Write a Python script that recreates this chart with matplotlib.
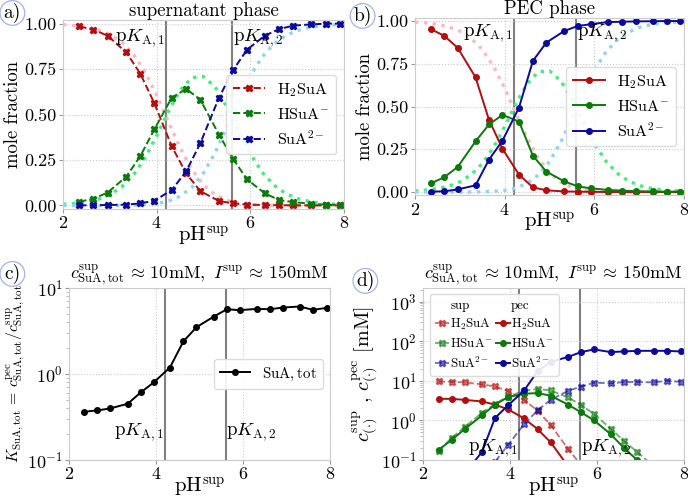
import matplotlib
matplotlib.use("Agg")
import matplotlib.pyplot as plt
from matplotlib.lines import Line2D

plt.rcParams["font.family"] = "cmr10"
plt.rcParams["mathtext.fontset"] = "cm"
plt.rcParams["axes.unicode_minus"] = False
plt.rcParams["axes.formatter.use_mathtext"] = True

# --- data ---
ph = [2.35, 2.65, 2.95, 3.35, 3.65, 3.95, 4.32, 4.63, 4.93, 5.33, 5.63, 5.93,
      6.31, 6.62, 6.92, 7.30, 7.61, 7.92]

# ideal (titration) curves
ph_ideal = [2.0, 2.25, 2.5, 2.75, 3.0, 3.25, 3.5, 3.75, 4.0, 4.25, 4.5, 4.75, 5.0,
            5.25, 5.5, 5.75, 6.0, 6.25, 6.5, 6.75, 7.0, 7.25, 7.5, 7.75, 8.0]
ideal_h2a = [0.994, 0.989, 0.980, 0.966, 0.941, 0.899, 0.833, 0.735, 0.607, 0.460, 0.317,
             0.198, 0.112, 0.058, 0.027, 0.012, 0.004, 0.002, 0.001, 0.0, 0.0, 0.0, 0.0, 0.0, 0.0]
ideal_ha = [0.006, 0.011, 0.020, 0.034, 0.059, 0.101, 0.166, 0.261, 0.383, 0.517, 0.633,
            0.703, 0.709, 0.651, 0.542, 0.410, 0.284, 0.183, 0.112, 0.066, 0.038, 0.022,
            0.012, 0.007, 0.004]
ideal_a = [0.0, 0.0, 0.0, 0.0, 0.0, 0.0, 0.001, 0.004, 0.010, 0.023, 0.050, 0.099, 0.178,
           0.291, 0.431, 0.579, 0.712, 0.816, 0.888, 0.934, 0.962, 0.978, 0.988, 0.993, 0.996]

# mole fractions, supernatant
sup_h2a = [0.985, 0.967, 0.934, 0.842, 0.725, 0.562, 0.326, 0.176, 0.079, 0.024, 0.011,
           0.004, 0.002, 0.001, 0.0, 0.0, 0.0, 0.0]
sup_ha = [0.020, 0.037, 0.070, 0.158, 0.271, 0.418, 0.592, 0.641, 0.582, 0.390, 0.256,
          0.143, 0.066, 0.029, 0.018, 0.009, 0.004, 0.002]
sup_a = [0.0, 0.001, 0.002, 0.004, 0.011, 0.026, 0.084, 0.187, 0.341, 0.592, 0.744,
         0.857, 0.934, 0.971, 0.989, 0.996, 1.0, 1.0]

# mole fractions, PEC
pec_h2a = [0.953, 0.914, 0.844, 0.671, 0.422, 0.253, 0.101, 0.027, 0.010, 0.003, 0.002,
           0.001, 0.0, 0.0, 0.0, 0.0, 0.0, 0.0]
pec_ha = [0.050, 0.086, 0.146, 0.296, 0.395, 0.451, 0.412, 0.212, 0.119, 0.062, 0.033,
          0.021, 0.012, 0.008, 0.005, 0.003, 0.002, 0.002]
pec_a = [0.002, 0.004, 0.015, 0.039, 0.189, 0.300, 0.494, 0.767, 0.874, 0.942, 0.971,
         0.982, 0.994, 0.996, 0.998, 0.999, 1.0, 1.0]

# partition coefficient
k_tot = [0.364, 0.377, 0.398, 0.451, 0.611, 0.80, 1.19, 2.40, 3.50, 4.66, 5.66, 5.52,
         5.72, 5.66, 5.93, 6.09, 5.57, 5.87]

# concentrations [mM]
csup_h2a = [9.6, 9.4, 9.1, 8.1, 7.2, 5.5, 3.3, 1.75, 0.77, 0.19, 0.075, 0.03, 0.01,
            0.005, 0.002, 0.001, 0.001, 0.001]
csup_ha = [0.17, 0.36, 0.68, 1.55, 2.6, 4.0, 5.6, 6.2, 5.7, 3.8, 2.45, 1.45, 0.62, 0.3,
           0.16, 0.07, 0.04, 0.02]
csup_a = [0.005, 0.01, 0.02, 0.04, 0.09, 0.24, 0.8, 1.8, 3.3, 5.6, 7.1, 9.0, 8.6, 9.3,
          9.3, 9.1, 10.0, 9.4]
cpec_h2a = [3.5, 3.5, 3.3, 3.0, 2.5, 1.9, 1.12, 0.6, 0.28, 0.07, 0.03, 0.01, 0.005,
            0.002, 0.001, 0.001, 0.001, 0.001]
cpec_ha = [0.18, 0.32, 0.6, 1.34, 2.5, 3.9, 4.7, 4.9, 4.2, 2.5, 1.6, 1.0, 0.45, 0.2,
           0.1, 0.05, 0.03, 0.02]
cpec_a = [0.01, 0.02, 0.045, 0.16, 1.15, 2.4, 5.7, 17.5, 30, 40, 53, 62, 53, 55, 57,
          57, 57, 55]

pka = [4.2, 5.6]
species = [r"H$_2$SuA", r"HSuA$^{-}$", r"SuA$^{2-}$"]
colors = ["#b50d0d", "#0a7a0a", "#0a0a9e"]
light = ["#ffb6c1", "#3cf07a", "#8fd3f5"]

title_cd = (r"$c^{\rm sup}_{\rm SuA,tot}\,\approx\,10{\rm mM},\ "
            r"I^{\rm sup}\,\approx\,150{\rm mM}$")


def style(ax):
    ax.grid(True, ls=":", color="0.8", lw=0.8)
    for s in ax.spines.values():
        s.set_color("0.8")
    ax.tick_params(colors="0.6", labelcolor="black", labelsize=13, length=3, pad=1.5)
    ax.tick_params(which="minor", colors="0.7", length=2)
    ax.set_xlim(2, 8)
    ax.set_xticks([2, 4, 6, 8])
    ax.set_xlabel(r"pH$^{\rm sup}$", fontsize=15, labelpad=-5)


def pka_lines(ax, ytext):
    for p in pka:
        ax.axvline(p, color="gray", lw=1.5, zorder=1)
    ax.text(4.18, ytext, r"p$K_{\rm A,1}$", ha="right", va="center", fontsize=13.5)
    ax.text(5.62, ytext, r"p$K_{\rm A,2}$", ha="left", va="center", fontsize=13.5)


def panel_label(x, y, s):
    fig.text(x, y, s, fontsize=14, ha="center", va="center",
             bbox=dict(boxstyle="circle,pad=0.12", fc="white", ec="#9fb4f0", lw=0.9))


fig = plt.figure(figsize=(6.88, 4.98), dpi=100)

# a) supernatant phase
ax_a = fig.add_axes([0.0916, 0.5803, 0.4084, 0.3795])
style(ax_a)
for y, c in zip([ideal_h2a, ideal_ha, ideal_a], light):
    ax_a.plot(ph_ideal, y, ls=":", color=c, lw=2.4)
for y, c, lab in zip([sup_h2a, sup_ha, sup_a], colors, species):
    ax_a.plot(ph, y, ls="--", marker="X", ms=5, color=c, lw=1.4, label=lab)
pka_lines(ax_a, 0.92)
ax_a.set_ylim(-0.02, 1.02)
ax_a.set_yticks([0, 0.25, 0.5, 0.75, 1.0])
ax_a.set_yticklabels(["0.00", "0.25", "0.50", "0.75", "1.00"])
ax_a.set_ylabel("mole fraction", fontsize=13.5, labelpad=2)
ax_a.set_title("supernatant phase", fontsize=13.5, pad=2)
ax_a.legend(loc="center right", fontsize=11.5, framealpha=0.9, edgecolor="0.85")

# b) PEC phase
ax_b = fig.add_axes([0.6032, 0.6076, 0.391, 0.357])
style(ax_b)
for y, c in zip([ideal_h2a, ideal_ha, ideal_a], light):
    ax_b.plot(ph_ideal, y, ls=":", color=c, lw=2.4)
for y, c, lab in zip([pec_h2a, pec_ha, pec_a], colors, species):
    ax_b.plot(ph, y, ls="-", marker="o", ms=4, color=c, lw=1.4, label=lab)
pka_lines(ax_b, 0.93)
ax_b.set_ylim(-0.02, 1.02)
ax_b.set_yticks([0, 0.25, 0.5, 0.75, 1.0])
ax_b.set_yticklabels(["0.00", "0.25", "0.50", "0.75", "1.00"])
ax_b.set_ylabel("mole fraction", fontsize=13.5, labelpad=2)
ax_b.set_title("PEC phase", fontsize=13.5, pad=2)
ax_b.legend(loc="center right", fontsize=11.5, framealpha=0.9, edgecolor="0.85")

# c) partition coefficient
ax_c = fig.add_axes([0.1003, 0.0763, 0.3794, 0.3454])
ax_c.set_yscale("log")
style(ax_c)
ax_c.plot(ph, k_tot, "-o", color="black", ms=4, lw=1.4, label=r"$\mathrm{SuA,tot}$")
pka_lines(ax_c, 0.21)
ax_c.set_ylim(0.1, 10)
ax_c.set_ylabel(r"$K_{\rm SuA,tot}\,=\,c^{\rm pec}_{\rm SuA,tot}/c^{\rm sup}_{\rm SuA,tot}$",
                fontsize=11.3, labelpad=0)
ax_c.set_title(title_cd, fontsize=13, pad=3)
ax_c.legend(loc="center right", fontsize=10.8, framealpha=0.9, edgecolor="0.85")

# d) concentrations
ax_d = fig.add_axes([0.6153, 0.0763, 0.3789, 0.3454])
ax_d.set_yscale("log")
style(ax_d)
sup_lines = []
pec_lines = []
for y, c, lab in zip([csup_h2a, csup_ha, csup_a], colors, species):
    l, = ax_d.plot(ph, y, ls="--", marker="X", ms=4.5, color=c, lw=1.3, alpha=0.6, label=lab)
    sup_lines.append(l)
for y, c, lab in zip([cpec_h2a, cpec_ha, cpec_a], colors, species):
    l, = ax_d.plot(ph, y, ls="-", marker="o", ms=4, color=c, lw=1.4, label=lab)
    pec_lines.append(l)
pka_lines(ax_d, 0.2)
ax_d.set_ylim(0.1, 2200)
ax_d.set_ylabel(r"$c^{\rm sup}_{(\cdot)}$ , $c^{\rm pec}_{(\cdot)}$ [mM]", fontsize=14.5, labelpad=1)
ax_d.set_title(title_cd, fontsize=13, pad=3)
blank = Line2D([], [], lw=0, alpha=0)
handles = [blank] + sup_lines + [blank] + pec_lines
labels = ["sup"] + species + ["pec"] + species
ax_d.legend(handles, labels, loc="upper left", ncol=2, fontsize=9.3, handlelength=1.1,
            handletextpad=0.1, columnspacing=0.2, labelspacing=0.4,
            framealpha=0.9, edgecolor="0.85")

panel_label(0.018, 0.974, "a)")
panel_label(0.527, 0.968, "b)")
panel_label(0.018, 0.450, "c)")
panel_label(0.531, 0.436, "d)")

fig.savefig("out.png", dpi=100)
